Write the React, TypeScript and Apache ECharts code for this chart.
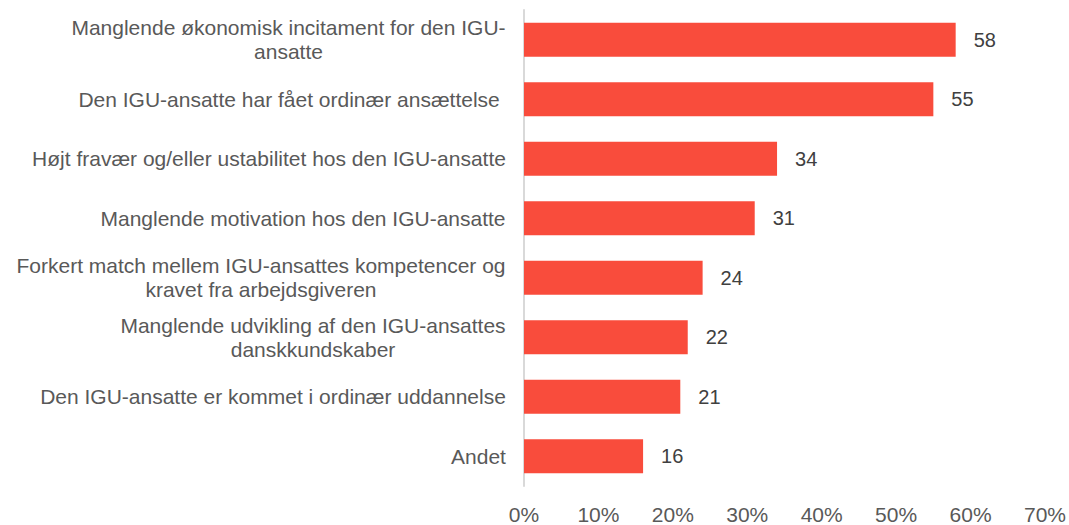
import React, { useEffect, useRef } from "react";
import * as echarts from "echarts";

const categories: string[][] = [
  ["Manglende økonomisk incitament for den IGU-", "ansatte"],
  ["Den IGU-ansatte har fået ordinær ansættelse "],
  ["Højt fravær og/eller ustabilitet hos den IGU-ansatte"],
  ["Manglende motivation hos den IGU-ansatte"],
  ["Forkert match mellem IGU-ansattes kompetencer og", "kravet fra arbejdsgiveren"],
  ["Manglende udvikling af den IGU-ansattes", "danskkundskaber"],
  ["Den IGU-ansatte er kommet i ordinær uddannelse"],
  ["Andet"],
];
const values: number[] = [58, 55, 34, 31, 24, 22, 21, 16];
const xTicks: number[] = [0, 10, 20, 30, 40, 50, 60, 70];

const FONT = "Liberation Sans, Arial, sans-serif";
const FS = 21;

function measure(t: string): number {
  const c = document.createElement("canvas").getContext("2d")!;
  c.font = `${FS}px ${FONT}`;
  return c.measureText(t).width;
}

export default function App() {
  const ref = useRef<HTMLDivElement>(null);
  useEffect(() => {
    if (!ref.current) return;
    const chart = echarts.init(ref.current, undefined, { renderer: "svg" });
    const rev = [...categories].reverse();
    const revVals = [...values].reverse();
    const yData = rev.map((lines) => {
      const w = Math.ceil(Math.max(...lines.map(measure)));
      return {
        value: lines.join(" "),
        textStyle: {
          rich: { c: { width: w, align: "center", fontSize: FS, fontFamily: FONT, color: "#595959", lineHeight: 24 } },
        },
      };
    });
    const formatMap: Record<string, string> = {};
    rev.forEach((lines) => {
      formatMap[lines.join(" ")] = lines.map((l) => `{c|${l}}`).join("\n");
    });
    chart.setOption({
      animation: false,
      grid: { left: 524, right: 24, top: 10, bottom: 35 },
      xAxis: {
        type: "value",
        min: 0,
        max: 70,
        interval: 10,
        axisLine: { show: false },
        axisTick: { show: false },
        splitLine: { show: false },
        axisLabel: {
          formatter: (v: number) => (xTicks.includes(v) ? `${v}%` : ""),
          fontSize: 21,
          fontFamily: FONT,
          color: "#595959",
          margin: 18,
        },
      },
      yAxis: {
        type: "category",
        data: yData,
        axisLine: { show: true, lineStyle: { color: "#d9d9d9", width: 2 } },
        axisTick: { show: false },
        axisLabel: {
          margin: 18,
          align: "right",
          formatter: (v: string) => formatMap[v] ?? v,
          fontSize: FS,
          fontFamily: FONT,
          color: "#595959",
        },
      },
      series: [
        {
          type: "bar",
          data: revVals,
          barWidth: 34,
          itemStyle: { color: "#F94C3C" },
          label: {
            show: true,
            position: "right",
            distance: 18,
            fontSize: 20,
            fontFamily: FONT,
            color: "#404040",
          },
        },
      ],
    });
    return () => chart.dispose();
  }, []);
  return <div ref={ref} style={{ width: 1069, height: 525, position: "absolute", left: 0, top: 0 }} />;
}
